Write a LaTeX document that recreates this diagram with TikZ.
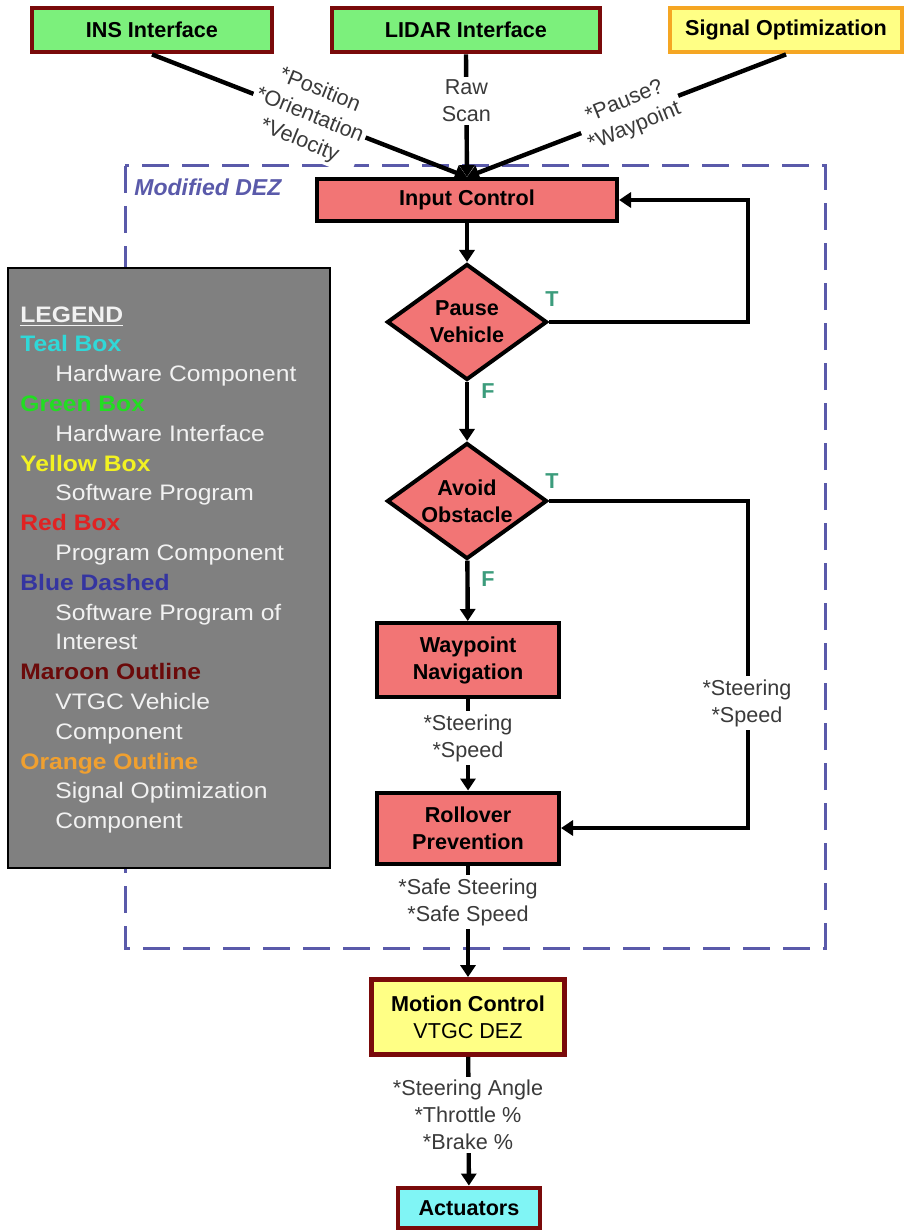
\documentclass[tikz,border=0pt]{standalone}
\usepackage{fontspec}
\setmainfont{Liberation Sans}
\newfontfamily\legendfont[FakeStretch=1.1]{Liberation Sans}
\usetikzlibrary{shapes.geometric,arrows.meta,calc}

\definecolor{redfill}{HTML}{F27575}
\definecolor{greenfill}{HTML}{7CF07C}
\definecolor{yellowfill}{HTML}{FFFF85}
\definecolor{cyanfill}{HTML}{80F5F5}
\definecolor{maroon}{HTML}{7A0A0A}
\definecolor{orangeline}{HTML}{F5A623}
\definecolor{dezblue}{HTML}{5A5AAA}
\definecolor{labelgray}{HTML}{3A3A3A}
\definecolor{tfgreen}{HTML}{3C9C7C}
\definecolor{legendgray}{HTML}{808080}
\definecolor{legendtext}{HTML}{F2F2F2}
\definecolor{lgteal}{HTML}{30D8D8}
\definecolor{lggreen}{HTML}{22DD22}
\definecolor{lgyellow}{HTML}{F2F222}
\definecolor{lgred}{HTML}{E02222}
\definecolor{lgblue}{HTML}{3535A0}
\definecolor{lgmaroon}{HTML}{6B0A0A}
\definecolor{lgorange}{HTML}{F0A030}

\begin{document}
\begin{tikzpicture}[x=0.5pt,y=-0.5pt,
  boxfont/.style={font=\bfseries\fontsize{10.8}{13.5}\selectfont},
  progbox/.style={boxfont, draw=black, line width=2pt, fill=redfill, align=center, inner sep=0pt},
  decision/.style={progbox, diamond, aspect=1.38, minimum width=80pt, minimum height=58pt},
  hwif/.style={boxfont, draw=maroon, line width=2.4pt, fill=greenfill, minimum height=22pt, inner sep=0pt},
  swbox/.style={boxfont, draw=orangeline, line width=2.4pt, fill=yellowfill, minimum height=22pt, inner sep=0pt},
  vehbox/.style={boxfont, draw=maroon, line width=2.4pt, fill=yellowfill, align=center, inner sep=0pt},
  hwbox/.style={boxfont, draw=maroon, line width=2.4pt, fill=cyanfill, inner sep=0pt},
  flow/.style={draw=black, line width=2.2pt, -{Triangle[length=6pt,width=7.5pt]}},
  lbl/.style={fill=white, align=center, text=labelgray, inner sep=1.5pt,
    font=\fontsize{10.8}{13.5}\selectfont},
  tf/.style={text=tfgreen, font=\bfseries\fontsize{10.8}{13.5}\selectfont, inner sep=0pt},
  dez/.style={draw=dezblue, line width=1.5pt, dash pattern=on 13.5pt off 6.5pt},
  legendbox/.style={draw=black, line width=1pt, fill=legendgray, minimum width=161pt, minimum height=300pt, inner sep=0pt},
  lghead/.style={anchor=base west, inner sep=0pt, font=\legendfont\bfseries\fontsize{11.2}{14}\selectfont},
  lgitem/.style={anchor=base west, inner sep=0pt, text=legendtext, font=\legendfont\fontsize{11.2}{14}\selectfont}
]
\useasboundingbox (0,0) rectangle (906,1230);

% boundary of the program of interest
\draw[dez] (125,166) rectangle (825,948);
\node[anchor=west, inner sep=0pt, text=dezblue, font=\bfseries\itshape\fontsize{11.5}{13}\selectfont] (dezlbl) at (134,187) {Modified DEZ};

% legend panel
\node[legendbox] (legend) at (169,568) {};
\node[lghead, text=legendtext] (lg0) at (20,322) {\underline{LEGEND}};
\node[lghead, text=lgteal]   (lg1)  at (20,351.8) {Teal Box};
\node[lgitem]                (lg2)  at (55,381.6) {Hardware Component};
\node[lghead, text=lggreen]  (lg3)  at (20,411.4) {Green Box};
\node[lgitem]                (lg4)  at (55,441.2) {Hardware Interface};
\node[lghead, text=lgyellow] (lg5)  at (20,471.0) {Yellow Box};
\node[lgitem]                (lg6)  at (55,500.8) {Software Program};
\node[lghead, text=lgred]    (lg7)  at (20,530.6) {Red Box};
\node[lgitem]                (lg8)  at (55,560.4) {Program Component};
\node[lghead, text=lgblue]   (lg9)  at (20,590.2) {Blue Dashed};
\node[lgitem]                (lg10) at (55,620.0) {Software Program of};
\node[lgitem]                (lg11) at (55,649.8) {Interest};
\node[lghead, text=lgmaroon] (lg12) at (20,679.6) {Maroon Outline};
\node[lgitem]                (lg13) at (55,709.4) {VTGC Vehicle};
\node[lgitem]                (lg14) at (55,739.2) {Component};
\node[lghead, text=lgorange] (lg15) at (20,769.0) {Orange Outline};
\node[lgitem]                (lg16) at (55,798.8) {Signal Optimization};
\node[lgitem]                (lg17) at (55,828.6) {Component};

% sources
\node[hwif, minimum width=120pt] (ins) at (152,30) {INS Interface};
\node[hwif, minimum width=134pt] (lidar) at (466,30) {LIDAR Interface};
\node[swbox, minimum width=116pt] (sigopt) at (786,30) {Signal Optimization};

% flow chart
\node[progbox, minimum width=150pt, minimum height=21pt] (input) at (467,200) {Input Control};
\node[decision] (pause) at (467,322) {Pause\\Vehicle};
\node[decision] (avoid) at (467,501) {Avoid\\Obstacle};
\node[progbox, minimum width=91pt, minimum height=37pt] (waypoint) at (468,660) {Waypoint\\Navigation};
\node[progbox, minimum width=91pt, minimum height=35.5pt] (rollover) at (468,828) {Rollover\\Prevention};
\node[vehbox, minimum width=96.5pt, minimum height=37.5pt] (motion) at (468,1017) {Motion Control\\\textmd{VTGC DEZ}};
\node[hwbox, minimum width=71pt, minimum height=20pt] (act) at (469,1208) {Actuators};

\coordinate (fbx) at (748,0);

% inputs into Input Control
\draw[flow] (ins.south) -- node[lbl, rotate=-22, pos=0.5] (inslbl) {*Position\\*Orientation\\*Velocity} (input.north);
\draw[flow] (lidar.south) -- node[lbl, pos=0.38] (lidarlbl) {Raw\\Scan} (input.north);
\draw[flow] (sigopt.south) -- node[lbl, rotate=22, pos=0.49] (siglbl) {*Pause?\\*Waypoint} (input.north);

% decisions
\draw[flow] (input) -- (pause);
\draw[flow] (pause.east) -- (pause.east -| fbx) |- (input.east);
\node[tf] (tpause) at (552,299) {T};
\node[tf] (fpause) at (488,391) {F};

\draw[flow] (pause) -- (avoid);
\draw[flow] (avoid.east) -- (avoid.east -| fbx) |- (rollover.east);
\node[tf] (tavoid) at (552,481) {T};
\node[tf] (favoid) at (488,579) {F};
\node[lbl] (avoidlbl) at (747,703) {*Steering\\*Speed};

\draw[flow] (avoid) -- (waypoint);
\draw[flow] (waypoint) -- (rollover);
\node[lbl] (waylbl) at (468,738) {*Steering\\*Speed};
\draw[flow] (rollover) -- (motion);
\node[lbl] (rolllbl) at (468,902) {*Safe Steering\\*Safe Speed};
\draw[flow] (motion) -- (act);
\node[lbl] (motlbl) at (468,1115) {*Steering Angle\\*Throttle \%\\*Brake \%};
\end{tikzpicture}
\end{document}
